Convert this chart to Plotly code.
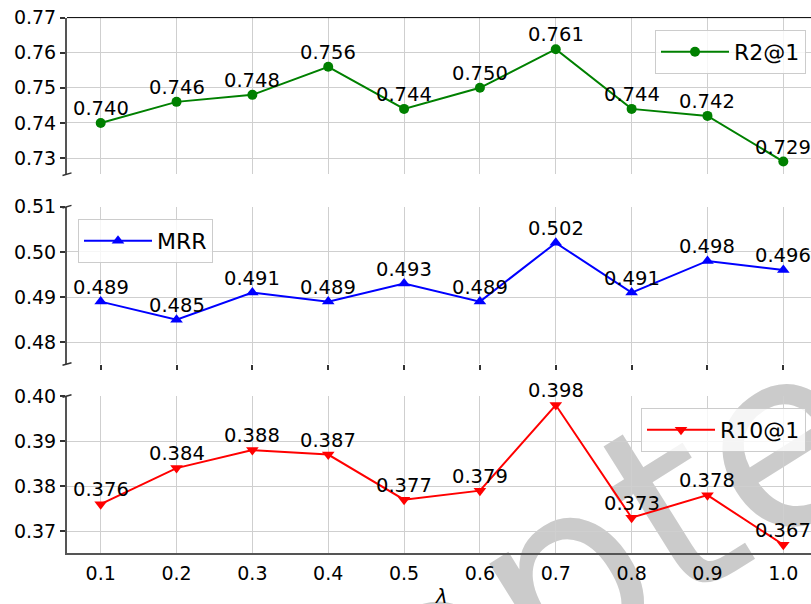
import plotly.graph_objects as go

# ---- data -------------------------------------------------------------
lam = [0.1, 0.2, 0.3, 0.4, 0.5, 0.6, 0.7, 0.8, 0.9, 1.0]
lam_labels = ["0.1", "0.2", "0.3", "0.4", "0.5", "0.6", "0.7", "0.8", "0.9", "1.0"]
r2_at_1 = [0.740, 0.746, 0.748, 0.756, 0.744, 0.750, 0.761, 0.744, 0.742, 0.729]
mrr = [0.489, 0.485, 0.491, 0.489, 0.493, 0.489, 0.502, 0.491, 0.498, 0.496]
r10_at_1 = [0.376, 0.384, 0.388, 0.387, 0.377, 0.379, 0.398, 0.373, 0.378, 0.367]

# ---- page geometry (pixels) ------------------------------------------
W, H = 811, 604
L = 67  # left margin, where the y spines sit


def px_x(p):
    return (p - L) / (W - L)


def px_y(p):
    return 1 - p / H


FONT = "DejaVu Sans"
TICK_SIZE = 19
ANN_SIZE = 19.5
LEG_SIZE = 22
SPINE = "#555555"
GRID = "#cfcfcf"

panels = [
    # name, values, color, symbol, y-range, top px, bottom px, legend
    ("R2@1", r2_at_1, "#008000", "circle", [0.7254, 0.77], 17.6, 174.2, "legend"),
    ("MRR", mrr, "#0000ff", "triangle-up", [0.4752, 0.51], 206.7, 364.0, "legend2"),
    ("R10@1", r10_at_1, "#ff0000", "triangle-down", [0.3651, 0.40], 396.0, 553.3, "legend3"),
]
BOT_TOP, BOT_BOTTOM = 396.0, 553.3

fig = go.Figure()
annotations = []
layout_axes = {}

for i, (name, vals, color, symbol, yr, top, bot, leg) in enumerate(panels, start=1):
    xa = "x" if i == 1 else f"x{i}"
    ya = "y" if i == 1 else f"y{i}"
    fig.add_trace(go.Scatter(
        x=lam, y=vals, name=name, mode="lines+markers",
        xaxis=xa, yaxis=ya, legend=leg,
        line=dict(color=color, width=2),
        marker=dict(color=color, symbol=symbol, size=10 if symbol == "circle" else 11,
                    line=dict(width=0)),
    ))
    for xv, yv in zip(lam, vals):
        annotations.append(dict(
            x=xv, y=yv, xref=xa, yref=ya, text=f"{yv:.3f}", showarrow=False,
            xanchor="center", yanchor="bottom", yshift=1,
            font=dict(family=FONT, size=ANN_SIZE, color="black"),
        ))

    xkey = "xaxis" if i == 1 else f"xaxis{i}"
    ykey = "yaxis" if i == 1 else f"yaxis{i}"
    xaxis = dict(
        domain=[0, 1], anchor=ya, range=[0.0556, 1.0365], automargin=False,
        tickmode="array", tickvals=lam, ticktext=lam_labels,
        showgrid=True, gridcolor=GRID, gridwidth=1, zeroline=False,
        showticklabels=False, ticks="", showline=False,
    )
    if i > 1:
        xaxis["matches"] = "x"
    if i == 2:
        xaxis.update(ticks="outside", ticklen=5, tickwidth=1.5, tickcolor="#333333")
    if i == 3:
        xaxis.update(showticklabels=True, ticks="outside", ticklen=2,
                     tickcolor="rgba(0,0,0,0)", showline=True,
                     linecolor=SPINE, linewidth=2,
                     tickfont=dict(family=FONT, size=TICK_SIZE, color="black"))
    layout_axes[xkey] = xaxis
    layout_axes[ykey] = dict(
        domain=[px_y(bot), px_y(top)], anchor=xa, range=yr, automargin=False,
        tickmode="linear", tick0=0, dtick=0.01, tickformat=".2f",
        showgrid=True, gridcolor=GRID, gridwidth=1, zeroline=False,
        showline=True, linecolor=SPINE, linewidth=2,
        ticks="outside", ticklen=5, tickwidth=1.5, tickcolor="#333333",
        tickfont=dict(family=FONT, size=TICK_SIZE, color="black"),
    )

# x axis title (lambda) below the bottom panel, placed in axis-domain units
annotations.append(dict(
    x=(441 - L) / (W - L), y=(BOT_BOTTOM - 583) / (BOT_BOTTOM - BOT_TOP),
    xref="x3 domain", yref="y3 domain", text="<i>λ</i>",
    showarrow=False, xanchor="center", yanchor="top",
    font=dict(family=FONT, size=ANN_SIZE, color="black"),
))

shapes = []
# top spine of the upper panel
shapes.append(dict(type="line", xref="paper", yref="paper",
                   x0=0, x1=1, y0=px_y(17.6), y1=px_y(17.6),
                   line=dict(color="black", width=1)))
# broken-axis marks on the left spine
for yb in [174.2, 206.7, 364.0, 396.0]:
    shapes.append(dict(type="line", xref="paper", yref="paper",
                       x0=px_x(62.5), y0=px_y(yb + 1.3),
                       x1=px_x(71.5), y1=px_y(yb - 1.3),
                       line=dict(color="#333333", width=1.5)))
# faint stamp text behind the plots
shapes.append(dict(type="rect", xref="paper", yref="paper", layer="below",
                   x0=px_x(474), x1=px_x(478), y0=px_y(612), y1=px_y(608),
                   line=dict(width=0), fillcolor="rgba(0,0,0,0)",
                   label=dict(text="Accepted", textposition="middle center",
                              textangle=-32,
                              font=dict(family=FONT, size=250, color="#cbcbcb"))))

legend_common = dict(
    bgcolor="rgba(255,255,255,0.8)", bordercolor="#cccccc", borderwidth=1,
    font=dict(family=FONT, size=LEG_SIZE, color="black"),
    yanchor="top", itemwidth=68,
)

fig.update_layout(
    template="none",
    width=W, height=H, autosize=False,
    margin=dict(l=L, r=0, t=0, b=0, pad=0, autoexpand=False),
    paper_bgcolor="white", plot_bgcolor="rgba(0,0,0,0)",
    font=dict(family=FONT, color="black"),
    showlegend=True,
    legend=dict(x=px_x(806), xanchor="right", y=px_y(30), **legend_common),
    legend2=dict(x=px_x(78), xanchor="left", y=px_y(219), **legend_common),
    legend3=dict(x=px_x(806), xanchor="right", y=px_y(408), **legend_common),
    annotations=annotations,
    shapes=shapes,
    **layout_axes,
)

fig.write_html("out.html")
